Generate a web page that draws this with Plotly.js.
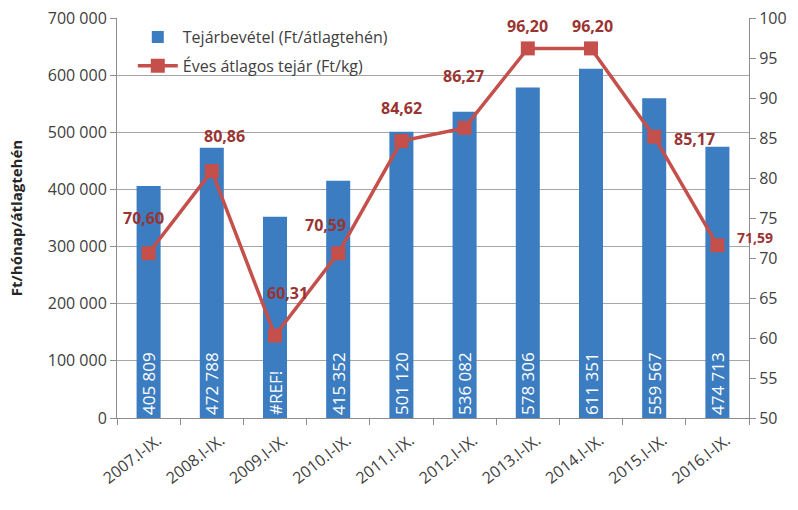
<!DOCTYPE html>
<html>
<head>
<meta charset="utf-8">
<script src="https://cdn.plot.ly/plotly-3.0.1.min.js"></script>
<style>html,body{margin:0;padding:0;background:#fff}#chart{width:798px;height:510px}</style>
</head>
<body>
<div id="chart"></div>
<script>
var categories = ['2007.I-IX.', '2008.I-IX.', '2009.I-IX.', '2010.I-IX.', '2011.I-IX.', '2012.I-IX.', '2013.I-IX.', '2014.I-IX.', '2015.I-IX.', '2016.I-IX.'];
var revenue = [405809, 472788, 352000, 415352, 501120, 536082, 578306, 611351, 559567, 474713];
var revenueLabels = ['405 809', '472 788', '#REF!', '415 352', '501 120', '536 082', '578 306', '611 351', '559 567', '474 713'];
var milkPrice = [70.60, 80.86, 60.31, 70.59, 84.62, 86.27, 96.20, 96.20, 85.17, 71.59];
var leftTicks = [0, 100000, 200000, 300000, 400000, 500000, 600000, 700000];
var rightTicks = [50, 55, 60, 65, 70, 75, 80, 85, 90, 95, 100];

// label placement offsets (px) for the line's data labels
var labelShiftX = [-5, 13, 12, -13, 0, -1, 0, 1, 40, 38];
var labelShiftY = [35, 35, 43, 28, 33, 52, 22, 22, -2, 8];
var labelSize = [16, 16, 16, 16, 16, 16, 16, 16, 16, 14];

var FONT = 'Open Sans, sans-serif';
var TXT = '#404040';
var GRID = '#a6a6a6';

var bar = {
  type: 'bar', x: categories, y: revenue, name: 'Tejárbevétel (Ft/átlagtehén)',
  marker: {color: '#3b7dc0'}, width: 0.38,
  text: revenueLabels, textposition: 'inside', insidetextanchor: 'start', textangle: -90,
  constraintext: 'none',
  insidetextfont: {family: FONT, size: 17, color: '#ffffff'},
  hoverinfo: 'x+y', legendgroup: 'a'
};
var line = {
  type: 'scatter', mode: 'lines+markers', x: categories, y: milkPrice, yaxis: 'y2',
  name: 'Éves átlagos tejár (Ft/kg)',
  line: {color: '#c44f4b', width: 3.5},
  marker: {symbol: 'square', size: 14, color: '#c44f4b'},
  legendgroup: 'b'
};

var annotations = milkPrice.map(function (v, i) {
  return {
    x: categories[i], y: v, xref: 'x', yref: 'y2',
    text: v.toFixed(2).replace('.', ','), showarrow: false,
    xanchor: 'center', yanchor: 'middle', borderpad: 0,
    xshift: labelShiftX[i], yshift: labelShiftY[i],
    font: {family: FONT, size: labelSize[i], color: '#9a3432', weight: 'bold'}
  };
});

var layout = {
  width: 798, height: 510,
  margin: {l: 117, r: 49, t: 18, b: 92},
  paper_bgcolor: '#ffffff', plot_bgcolor: '#ffffff',
  separators: ', ',
  font: {family: FONT, color: TXT, size: 15},
  showlegend: true,
  legend: {
    x: 0.025, y: 0.995, xanchor: 'left', yanchor: 'top',
    bgcolor: 'rgba(0,0,0,0)', font: {family: FONT, size: 16, color: TXT},
    traceorder: 'grouped', tracegroupgap: 5, itemwidth: 40
  },
  xaxis: {
    type: 'category', range: [-0.5, 9.5], autorange: false,
    showline: true, linecolor: '#8c8c8c', linewidth: 1,
    ticks: 'outside', tickson: 'boundaries', ticklen: 6, tickcolor: '#8c8c8c',
    tickangle: -38, tickfont: {family: FONT, size: 16, color: TXT},
    ticklabelshift: 9, ticklabelstandoff: 6,
    showgrid: false, fixedrange: true
  },
  yaxis: {
    range: [0, 700000], autorange: false, tickvals: leftTicks, tickformat: ',d',
    showline: true, linecolor: '#8c8c8c', ticks: 'outside', ticklen: 6, tickcolor: '#8c8c8c',
    showgrid: true, gridcolor: GRID, gridwidth: 1, zeroline: false,
    tickfont: {family: FONT, size: 16, color: TXT},
    title: {text: 'Ft/hónap/átlagtehén', standoff: 21,
            font: {family: FONT, size: 15, color: '#262626', weight: 'bold'}}
  },
  yaxis2: {
    overlaying: 'y', side: 'right', range: [50, 100], autorange: false, tickvals: rightTicks,
    showline: true, linecolor: '#8c8c8c', ticks: 'outside', ticklen: 6, tickcolor: '#8c8c8c',
    showgrid: false, zeroline: false,
    tickfont: {family: FONT, size: 16, color: TXT}
  },
  annotations: annotations
};

Plotly.newPlot('chart', [bar, line], layout, {staticPlot: true, displayModeBar: false});
</script>
</body>
</html>
